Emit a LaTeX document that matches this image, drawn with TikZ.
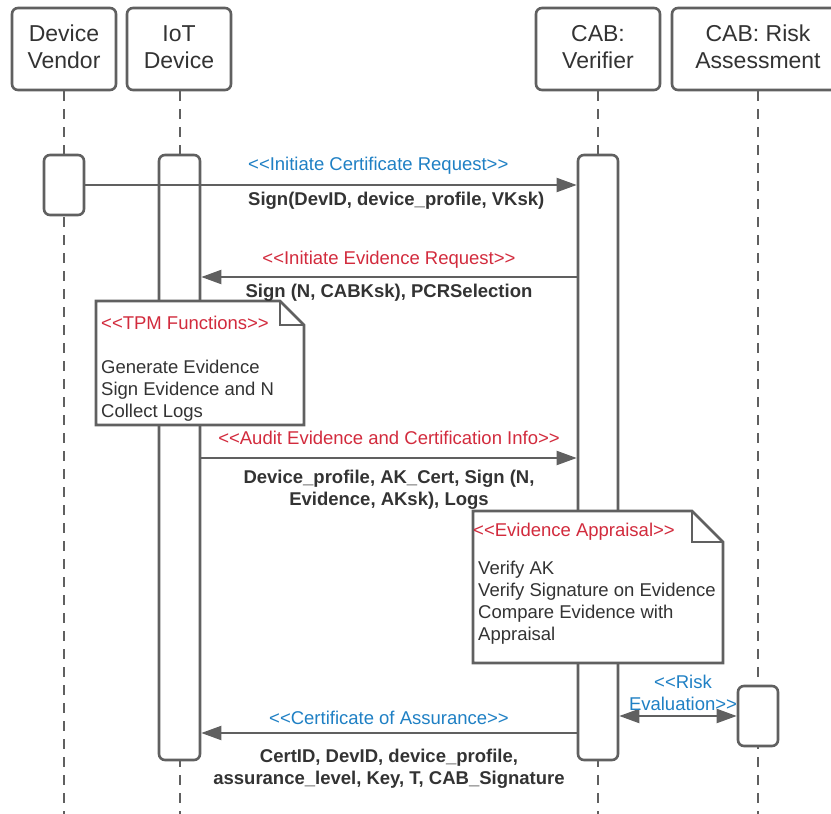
\documentclass[tikz,border=0pt]{standalone}
\usepackage{fontspec}
\setmainfont{Liberation Sans}
\usetikzlibrary{arrows.meta}
\definecolor{lg}{HTML}{606060}
\definecolor{tx}{HTML}{333333}
\definecolor{bl}{HTML}{1F80C4}
\definecolor{rd}{HTML}{D22B3D}
\begin{document}
\begin{tikzpicture}[x=1pt,y=-1pt,
  head/.style={draw=lg, line width=2.6pt, rounded corners=6pt, fill=white, inner sep=0pt, minimum height=82pt},
  headtxt/.style={text=tx, align=center, font=\fontsize{23}{27}\selectfont, inner sep=0pt},
  act/.style={draw=lg, line width=2.6pt, rounded corners=6pt, fill=white, inner sep=0pt},
  life/.style={draw=lg, line width=2pt, dash pattern=on 10pt off 8pt},
  msg/.style={draw=lg, line width=2pt, -{Triangle[length=20pt,width=14pt]}},
  dmsg/.style={draw=lg, line width=2pt, {Triangle[length=20pt,width=14pt]}-{Triangle[length=20pt,width=14pt]}},
  note/.style={draw=lg, line width=2.6pt, fill=white, line join=miter},
  lbl/.style={font=\fontsize{18.5}{22}\selectfont, inner sep=0pt, anchor=base},
  bl lbl/.style={lbl, text=bl},
  rd lbl/.style={lbl, text=rd},
  bd lbl/.style={lbl, text=tx, font=\fontsize{18.5}{22}\selectfont\bfseries},
  nt lbl/.style={lbl, text=tx, anchor=base west},
]
\useasboundingbox (0,0) rectangle (831,814);

% heads
\node[head, minimum width=104pt] (vh) at (64,49) {};
\node[head, minimum width=104pt] (ih) at (179,49) {};
\node[head, minimum width=124pt] (ch) at (598,49) {};
\node[head, minimum width=172pt] (rh) at (758,49) {};
\node[headtxt] (vht) at ([yshift=2pt]vh.center) {Device\\Vendor};
\node[headtxt] (iht) at ([yshift=2pt]ih.center) {IoT\\Device};
\node[headtxt] (cht) at ([yshift=2pt]ch.center) {CAB:\\Verifier};
\node[headtxt] (rht) at ([yshift=2pt]rh.center) {CAB: Risk\\Assessment};

% lifelines
\coordinate (vbot) at (64,814);
\coordinate (ibot) at (179.5,814);
\coordinate (cbot) at (598,814);
\coordinate (rbot) at (758,814);
\draw[life] (vh.south -| vbot) -- (vbot);
\draw[life] (ih.south -| ibot) -- (ibot);
\draw[life] (ch.south -| cbot) -- (cbot);
\draw[life] (rh.south -| rbot) -- (rbot);

% activations
\node[act, minimum width=40pt, minimum height=60pt] (vact) at (64,185) {};
\node[act, minimum width=41pt, minimum height=605pt] (iact) at (179.5,457.5) {};
\node[act, minimum width=40pt, minimum height=605pt] (cact) at (598,457.5) {};
\node[act, minimum width=40pt, minimum height=60pt] (ract) at (758,716) {};

% messages
\coordinate (m2) at (0,277);
\coordinate (m4) at (0,458);
\coordinate (m7) at (0,733);
\draw[msg] (vact.east) -- (vact.east -| cact.west);
\draw[msg] (cact.west |- m2) -- (iact.east |- m2);
\draw[msg] (iact.east |- m4) -- (cact.west |- m4);
\draw[dmsg] (cact.east |- ract.west) -- (ract.west);
\draw[msg] (cact.west |- m7) -- (iact.east |- m7);

% notes
\draw[note] (96,301) -- (280,301) -- (304,325) -- (304,425) -- (96,425) -- cycle;
\draw[note, fill=none] (280,301) -- (280,325) -- (304,325);
\draw[note] (473,511) -- (692,511) -- (723,542) -- (723,663) -- (473,663) -- cycle;
\draw[note, fill=none] (692,511) -- (692,542) -- (723,542);

% labels
\node[bl lbl, anchor=base west] (l1a) at (248,170) {<{}<Initiate Certificate Request>{}>};
\node[bd lbl, anchor=base west] (l1b) at (248,205) {Sign(DevID, device\_profile, VKsk)};
\node[rd lbl] (l2a) at (389,264) {<{}<Initiate Evidence Request>{}>};
\node[bd lbl] (l2b) at (389,297) {Sign (N, CABKsk), PCRSelection};

\node[rd lbl, anchor=base west] (n1a) at (101,329) {<{}<TPM Functions>{}>};
\node[nt lbl] (n1b) at (101,373) {Generate Evidence};
\node[nt lbl] (n1c) at (101,395) {Sign Evidence and N};
\node[nt lbl] (n1d) at (101,417) {Collect Logs};

\node[rd lbl] (l4a) at (389,444) {<{}<Audit Evidence and Certification Info>{}>};
\node[bd lbl] (l4b) at (389,483) {Device\_profile, AK\_Cert, Sign (N,};
\node[bd lbl] (l4c) at (389,505) {Evidence, AKsk), Logs};

\node[rd lbl, anchor=base west] (n2a) at (473,536) {<{}<Evidence Appraisal>{}>};
\node[nt lbl] (n2b) at (478,574) {Verify AK};
\node[nt lbl] (n2c) at (478,596) {Verify Signature on Evidence};
\node[nt lbl] (n2d) at (478,618) {Compare Evidence with};
\node[nt lbl] (n2e) at (478,640) {Appraisal};

\node[bl lbl] (l6a) at (683,688) {<{}<Risk};
\node[bl lbl] (l6b) at (683,710) {Evaluation>{}>};

\node[bl lbl] (l7a) at (389,724) {<{}<Certificate of Assurance>{}>};
\node[bd lbl] (l7b) at (389,762) {CertID, DevID, device\_profile,};
\node[bd lbl] (l7c) at (389,784) {assurance\_level, Key, T, CAB\_Signature};
\end{tikzpicture}
\end{document}
